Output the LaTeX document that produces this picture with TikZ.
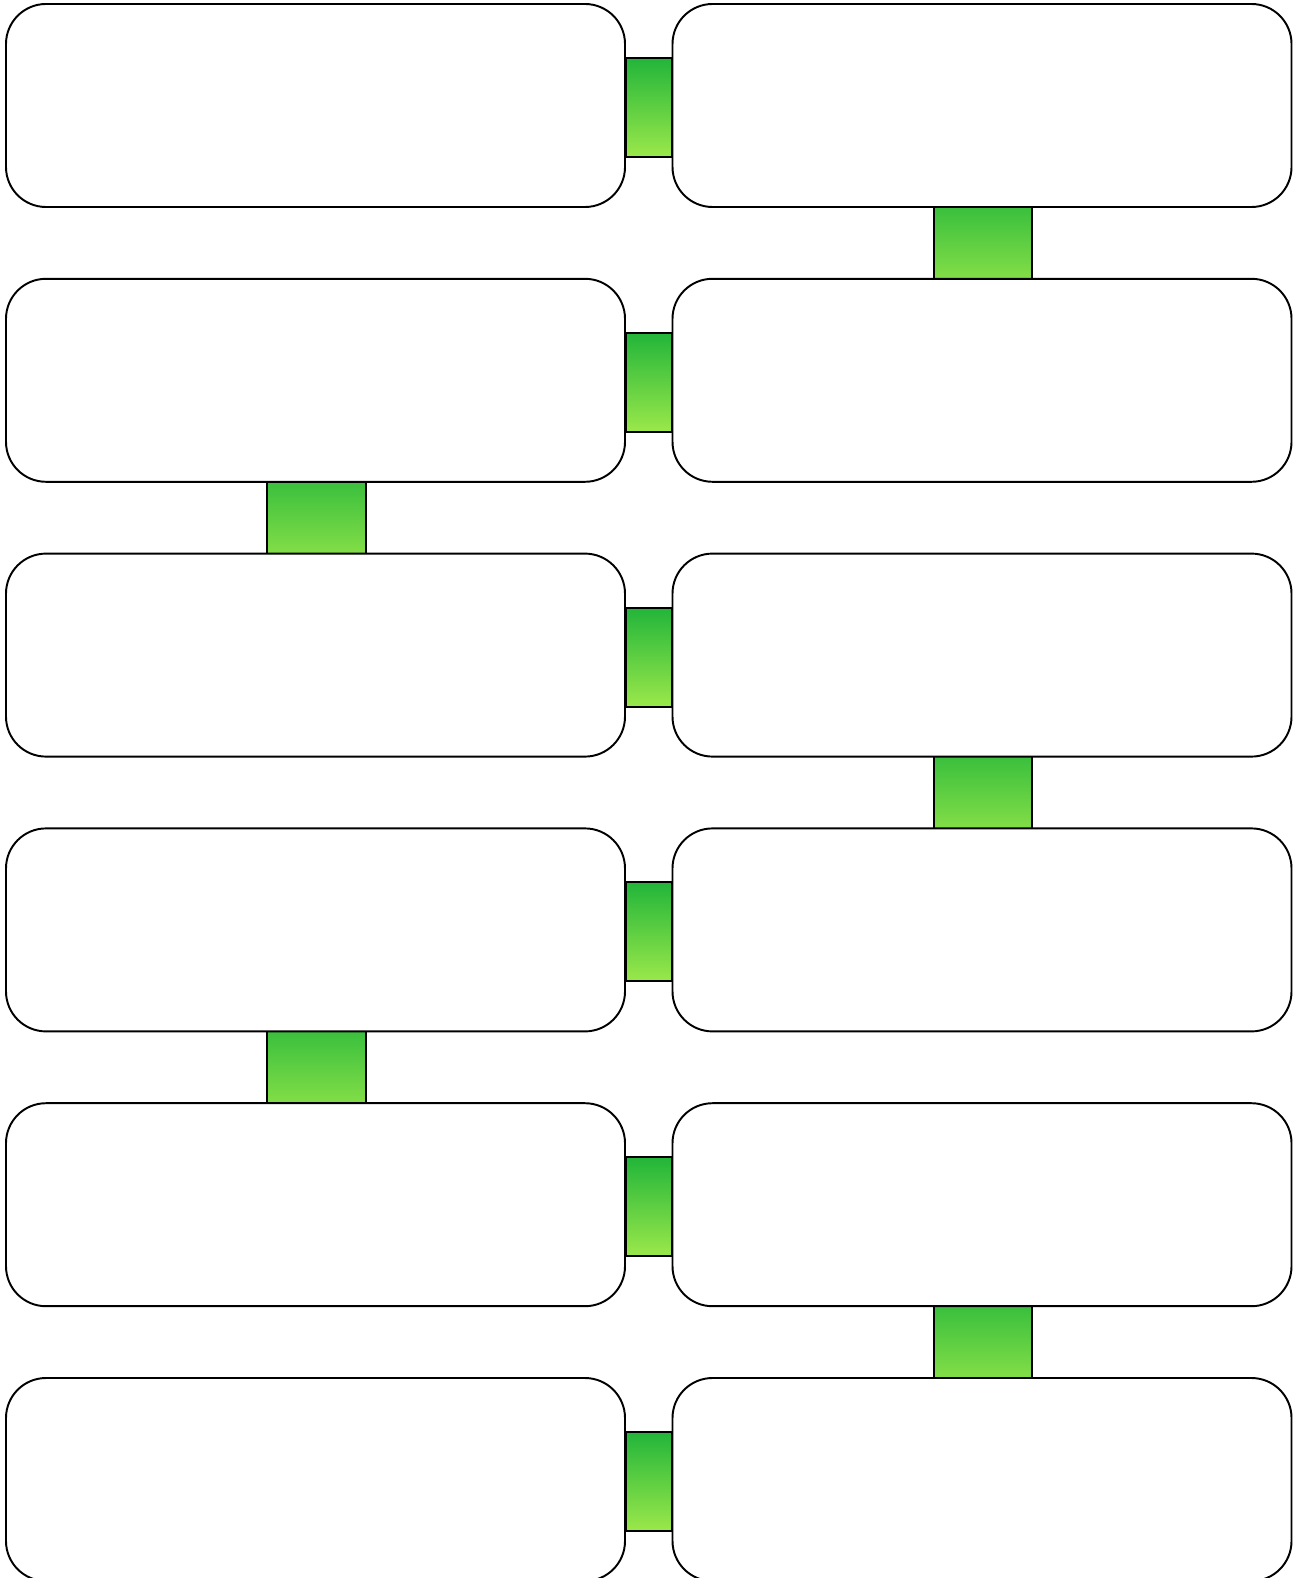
\documentclass[tikz,border=0pt]{standalone}
\usepackage{tikz}
\usetikzlibrary{positioning, calc, backgrounds}
\definecolor{stepgreen}{RGB}{34,181,58}
\definecolor{steplime}{RGB}{155,232,74}
\tikzset{
  card/.style={
    rectangle, rounded corners=0.8cm, minimum width=12.38cm, minimum height=4.06cm,
    draw=black, fill=white, line width=1.1pt, inner sep=0pt
  },
  bridge/.style={
    draw=black, line width=1.1pt, top color=stepgreen, bottom color=steplime
  }
}
\begin{document}
\begin{tikzpicture}
  \useasboundingbox (0,0) rectangle (25.88,-31.56);

  % Cards
  \foreach \r in {1,...,6} {
    \pgfmathsetmacro{\y}{-2.11-5.496*(\r-1)}
    \node[card] (L\r) at (6.31,\y) {};
    \node[card] (R\r) at (19.64,\y) {};
  }

  % Bridges
  \begin{scope}[on background layer]
    \foreach \r in {1,...,6} {
      \path[bridge] ([yshift=0.95cm]L\r.east) rectangle ([yshift=-1.03cm]R\r.west);
    }
    \foreach \a/\b/\s in {1/2/R, 2/3/L, 3/4/R, 4/5/L, 5/6/R} {
      \path[bridge] ([xshift=-0.965cm,yshift=0.5cm]\s\a.south)
        rectangle ([xshift=1.005cm,yshift=-0.5cm]\s\b.north);
    }
  \end{scope}
\end{tikzpicture}
\end{document}
